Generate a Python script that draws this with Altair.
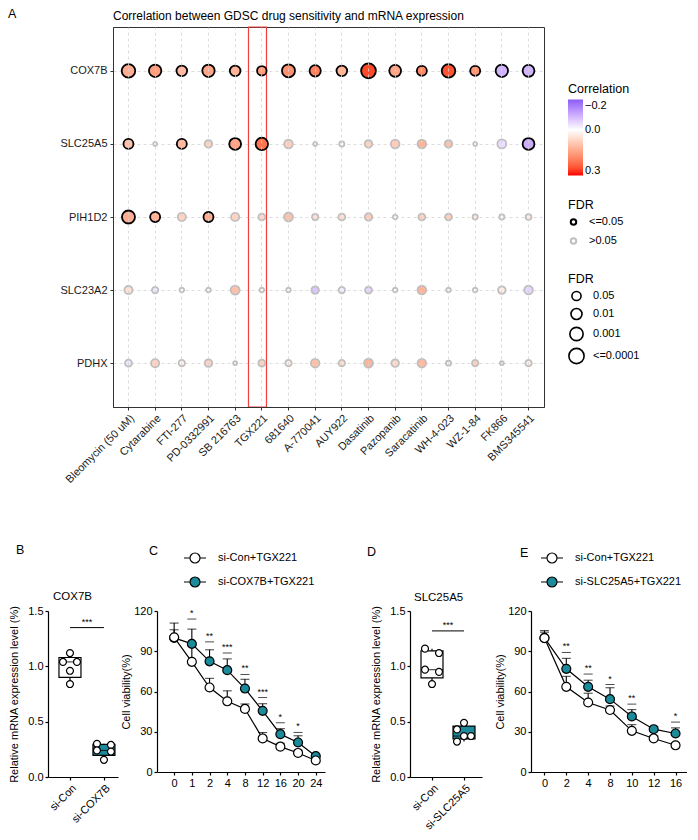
import altair as alt
import pandas as pd

FONT = "Liberation Sans"
TEAL = "#1b8a9b"
PURPLE = "#8c5cf7"

# ---------------- Panel A data ----------------
drugs = ["Bleomycin (50 uM)", "Cytarabine", "FTI-277", "PD-0332991", "SB 216763", "TGX221",
         "681640", "A-770041", "AUY922", "Dasatinib", "Pazopanib", "Saracatinib",
         "WH-4-023", "WZ-1-84", "FK866", "BMS345541"]
genes = ["COX7B", "SLC25A5", "PIH1D2", "SLC23A2", "PDHX"]
highlight_drug = ["TGX221"]

corr_cox7b = [0.13, 0.15, 0.11, 0.14, 0.12, 0.15, 0.17, 0.19, 0.12, 0.26, 0.14, 0.18, 0.25, 0.16, -0.09, -0.09]
corr_slc25a5 = [0.10, 0.01, 0.11, 0.07, 0.14, 0.21, 0.08, 0.02, 0.00, 0.07, 0.08, 0.12, 0.10, 0.00, -0.04, -0.10]
corr_pih1d2 = [0.13, 0.12, 0.07, 0.13, 0.07, 0.06, 0.10, 0.05, 0.05, 0.08, 0.01, 0.07, 0.08, 0.03, 0.01, 0.03]
corr_slc23a2 = [0.05, -0.03, 0.00, 0.00, 0.10, 0.00, 0.00, -0.07, -0.02, -0.05, 0.00, 0.12, 0.01, 0.00, 0.03, -0.05]
corr_pdhx = [-0.03, 0.07, 0.02, 0.07, 0.01, 0.07, 0.03, 0.10, 0.05, 0.12, 0.06, 0.11, 0.02, 0.07, 0.01, 0.03]

# -log10(FDR)
nlf_cox7b = [3.13, 2.58, 1.84, 2.58, 1.84, 1.42, 2.87, 2.09, 1.84, 3.76, 2.31, 1.60, 3.13, 1.60, 2.58, 2.31]
nlf_slc25a5 = [1.60, 0.07, 1.60, 0.82, 2.31, 2.58, 1.15, 0.07, 0.26, 0.82, 1.15, 1.15, 0.82, 0.07, 1.25, 2.31]
nlf_pih1d2 = [2.87, 1.60, 0.99, 1.60, 0.99, 0.65, 1.25, 0.52, 0.65, 0.82, 0.17, 0.65, 0.65, 0.26, 0.26, 0.38]
nlf_slc23a2 = [0.99, 0.52, 0.17, 0.17, 1.25, 0.17, 0.17, 0.82, 0.52, 0.65, 0.17, 1.15, 0.17, 0.17, 0.82, 1.15]
nlf_pdhx = [0.65, 0.99, 0.52, 0.82, 0.07, 0.65, 0.52, 1.15, 0.52, 1.25, 0.82, 1.15, 0.26, 0.52, 0.05, 0.52]

# ---------------- Panel B / D data ----------------
b_groups = ["si-Con", "si-COX7B"]
b_con = [1.12, 1.04, 1.04, 0.96, 0.84]
b_kd = [0.30, 0.29, 0.24, 0.23, 0.155]
b_min = [0.84, 0.155]
b_q1 = [0.90, 0.195]
b_med = [1.04, 0.24]
b_q3 = [1.08, 0.295]
b_max = [1.12, 0.30]
b_sig = 1.35

d_groups = ["si-Con", "si-SLC25A5"]
d_con = [1.16, 1.12, 0.97, 0.95, 0.84]
d_kd = [0.49, 0.43, 0.37, 0.37, 0.32]
d_min = [0.84, 0.32]
d_q1 = [0.895, 0.345]
d_med = [0.97, 0.37]
d_q3 = [1.14, 0.46]
d_max = [1.16, 0.49]
d_sig = 1.32

# ---------------- Panel C / E data ----------------
c_names = ["si-Con+TGX221", "si-COX7B+TGX221"]
c_times = ["0", "1", "2", "4", "8", "12", "16", "20", "24"]
c_con = [100.4, 82.1, 63.0, 52.7, 47.0, 25.0, 18.9, 14.2, 8.6]
c_con_err = [10.6, 12.0, 6.8, 7.8, 3.7, 4.4, 2.5, 2.0, 1.5]
c_kd = [100.0, 95.5, 82.5, 75.9, 62.2, 45.6, 28.2, 22.0, 11.8]
c_kd_err = [6.0, 11.0, 8.6, 8.4, 6.9, 5.3, 4.1, 5.0, 1.0]
c_sig_t = ["1", "2", "4", "8", "12", "16", "20"]
c_sig_y = [114.0, 97.0, 88.7, 72.7, 55.5, 36.7, 29.5]
c_sig_lab = ["*", "**", "***", "**", "***", "*", "*"]

e_names = ["si-Con+TGX221", "si-SLC25A5+TGX221"]
e_times = ["0", "2", "4", "8", "10", "12", "16"]
e_con = [99.8, 63.5, 51.8, 46.2, 30.7, 25.0, 19.9]
e_con_err = [4.4, 7.8, 6.9, 3.0, 4.6, 2.0, 2.0]
e_kd = [100.0, 76.9, 63.5, 54.3, 41.4, 31.9, 28.7]
e_kd_err = [5.4, 7.8, 4.9, 8.5, 5.1, 2.0, 4.2]
e_sig_t = ["2", "4", "8", "10", "16"]
e_sig_y = [89.1, 73.0, 65.2, 50.6, 37.2]
e_sig_lab = ["**", "**", "*", "**", "*"]

# ================= Panel A =================
rows = []
for g, cr, fr in zip(genes, [corr_cox7b, corr_slc25a5, corr_pih1d2, corr_slc23a2, corr_pdhx],
                     [nlf_cox7b, nlf_slc25a5, nlf_pih1d2, nlf_slc23a2, nlf_pdhx]):
    for d, c, f in zip(drugs, cr, fr):
        rows.append({"gene": g, "drug": d, "corr": c, "neg_corr": -c, "nlf": f,
                     "sig": "<=0.05" if f >= 1.30103 else ">0.05"})
df_a = pd.DataFrame(rows)

grid_kw = dict(grid=True, gridDash=[3, 3], gridColor="#d3d3d3", gridWidth=0.8,
               domainColor="#333333", tickColor="#333333", domainWidth=1, tickWidth=1,
               tickSize=3, labelColor="#1a1a1a", labelFontSize=11)
x_top = alt.X("drug:N", sort=drugs, title=None,
              scale=alt.Scale(type="band", paddingInner=0, paddingOuter=0.08),
              axis=alt.Axis(labelAngle=-45, labelPadding=2, **grid_kw))
y_top = alt.Y("gene:N", sort=genes, title=None,
              scale=alt.Scale(type="point", padding=0.6),
              axis=alt.Axis(labelPadding=3, **grid_kw))

# fill uses the negated correlation so the vertical gradient shows -0.2 on top
bubbles = alt.Chart(df_a).mark_circle(opacity=1, strokeWidth=1.8).encode(
    x=x_top, y=y_top,
    fill=alt.Fill("neg_corr:Q",
                  scale=alt.Scale(domain=[-0.3, 0, 0.2], range=["#ff0000", "#ffffff", PURPLE], interpolate="lab"),
                  legend=alt.Legend(title="Correlation", orient="none", legendX=455, legendY=56,
                                    direction="vertical", gradientLength=76, gradientThickness=15,
                                    values=[-0.3, 0, 0.2],
                                    labelExpr="datum.value == 0 ? '0.0' : format(-datum.value, '.1f')",
                                    titleFontSize=12.5, labelFontSize=11, gradientStrokeWidth=0,
                                    titlePadding=4)),
    stroke=alt.Stroke("sig:N", scale=alt.Scale(domain=["<=0.05", ">0.05"], range=["#000000", "#bfbfbf"]),
                      legend=alt.Legend(title="FDR", orient="none", legendX=455, legendY=172,
                                        symbolType="circle", symbolSize=30, symbolStrokeWidth=2,
                                        symbolFillColor="white", labelFontSize=11, titleFontSize=12.5,
                                        rowPadding=4, labelOffset=10)),
    size=alt.Size("nlf:Q", scale=alt.Scale(domain=[0, 4], range=[12, 232]),
                  legend=alt.Legend(title="FDR", orient="none", legendX=455, legendY=246,
                                    values=[1.30103, 2, 3, 4],
                                    labelExpr="datum.value < 1.5 ? '0.05' : datum.value < 2.5 ? '0.01' : datum.value < 3.5 ? '0.001' : '<=0.0001'",
                                    symbolStrokeColor="black", symbolFillColor="white",
                                    symbolStrokeWidth=1.6, labelFontSize=11, titleFontSize=12.5,
                                    rowPadding=0, labelOffset=8)),
)

red_box = alt.Chart(pd.DataFrame({"drug": highlight_drug})).mark_rect(
    fill="transparent", stroke="#f0403c", strokeWidth=1.2
).encode(x=x_top)

top = alt.layer(red_box, bubbles).properties(
    width=431, height=380,
    title=alt.Title("Correlation between GDSC drug sensitivity and mRNA expression",
                    anchor="start", frame="group", fontSize=12, fontWeight="normal", offset=3),
    view=alt.ViewBackground(stroke="#333333", strokeWidth=1),
)

spacer_a = alt.Chart(pd.DataFrame({"t": ["A"]})).mark_text(
    align="left", baseline="top", fontSize=12.5, font=FONT, color="black"
).encode(text="t:N", x=alt.value(-40), y=alt.value(-19)).properties(width=1, height=380)

res = dict(x="independent", y="independent", fill="independent", stroke="independent", size="independent")
leg = dict(fill="independent", stroke="independent", size="independent")

top_row = alt.hconcat(spacer_a, top, spacing=10).resolve_scale(**res).resolve_legend(**leg)


def text_layer(txt, xy, size, baseline="middle"):
    return alt.Chart(pd.DataFrame({"t": [txt]})).mark_text(
        align="left", baseline=baseline, fontSize=size, font=FONT, color="black"
    ).encode(text="t:N", x=alt.value(xy[0]), y=alt.value(xy[1]))


# ================= Box panels =================
def box_panel(groups, con, kd, con_slots, kd_slots, bmin, bq1, bmed, bq3, bmax, sig_y,
              gene_title, title_xy, letter, letter_xy, width, height, pad, align):
    pts = pd.DataFrame({"group": [groups[0]] * len(con) + [groups[1]] * len(kd),
                        "value": con + kd, "slot": con_slots + kd_slots})
    st = pd.DataFrame({"group": groups, "mn": bmin, "q1": bq1, "med": bmed, "q3": bq3, "mx": bmax})
    sg = pd.DataFrame({"a": [groups[0]], "b": [groups[1]], "y": [sig_y], "lab": ["***"]})
    xsc = alt.Scale(type="point", domain=groups, padding=pad, align=align)
    xax = alt.Axis(labelAngle=-45, tickSize=3, labelPadding=2)
    ysc = alt.Scale(domain=[0, 1.5])
    yax = alt.Axis(values=[0, 0.5, 1.0, 1.5], format=".1f", titlePadding=8, tickSize=3, labelPadding=2)
    ytitle = "Relative mRNA expression level (%)"
    step = width / (1 + 2 * pad)

    def X(f):
        return alt.X(f, sort=groups, scale=xsc, axis=xax, title=None)

    def Y(f):
        return alt.Y(f, scale=ysc, axis=yax, title=ytitle)

    whisk = alt.Chart(st).mark_rule(color="black", strokeWidth=1.2).encode(x=X("group:N"), y=Y("mn:Q"), y2="mx:Q")
    box = alt.Chart(st).mark_bar(size=22, stroke="black", strokeWidth=1.2).encode(
        x=X("group:N"), y=Y("q1:Q"), y2="q3:Q",
        fill=alt.Fill("group:N", scale=alt.Scale(domain=groups, range=["white", TEAL]), legend=None))
    med = alt.Chart(st).mark_tick(size=22, thickness=1.2, color="black").encode(x=X("group:N"), y=Y("med:Q"))
    dots = alt.Chart(pts).mark_circle(fill="white", stroke="black", strokeWidth=1.2, size=48, opacity=1).encode(
        x=X("group:N"), y=Y("value:Q"),
        xOffset=alt.XOffset("slot:Q", scale=alt.Scale(domain=[-1, 1], range=[-7, 7])))
    sig_line = alt.Chart(sg).mark_rule(color="black", strokeWidth=1).encode(x=X("a:N"), x2="b:N", y=Y("y:Q"))
    sig_txt = alt.Chart(sg).mark_text(fontSize=9, baseline="bottom", dx=step / 2, dy=-1, color="black").encode(
        x=X("a:N"), y=Y("y:Q"), text="lab:N")
    let = text_layer(letter, letter_xy, 12.5)
    ttl = text_layer(gene_title, title_xy, 11.5)
    return alt.layer(whisk, box, med, dots, sig_line, sig_txt, let, ttl).properties(width=width, height=height)


# ================= Line panels =================
def line_panel(times, con, con_err, kd, kd_err, sig_t, sig_y, sig_lab, names, letter, letter_xy,
               legend_xy, width, height, pad, align):
    rows = []
    for g, m, e in [(names[1], kd, kd_err), (names[0], con, con_err)]:
        for i, t in enumerate(times):
            rows.append({"group": g, "t": t, "idx": i, "mean": m[i], "top": m[i] + e[i]})
    df = pd.DataFrame(rows)
    sg = pd.DataFrame({"t": sig_t, "y": sig_y, "lab": sig_lab})
    xsc = alt.Scale(type="point", padding=pad, align=align)
    xax = alt.Axis(labelAngle=0, tickSize=3, labelPadding=2)
    ysc = alt.Scale(domain=[0, 120])
    yax = alt.Axis(values=[0, 30, 60, 90, 120], titlePadding=2, tickSize=3, labelPadding=2)
    ytitle = "Cell viability(%)"

    def X(f):
        return alt.X(f, sort=times, scale=xsc, axis=xax, title=None)

    def Y(f):
        return alt.Y(f, scale=ysc, axis=yax, title=ytitle)

    path = "M-2.2,0H-1M1,0H2.2M-1,0A1,1 0 1,0 1,0A1,1 0 1,0 -1,0Z"
    lines = alt.Chart(df).mark_line(color="black", strokeWidth=1.2).encode(
        x=X("t:O"), y=Y("mean:Q"), detail="group:N", order="idx:Q")
    err = alt.Chart(df).mark_rule(color="black", strokeWidth=1.1).encode(x=X("t:O"), y=Y("mean:Q"), y2="top:Q")
    cap = alt.Chart(df).mark_tick(color="black", size=9, thickness=1.1).encode(x=X("t:O"), y=Y("top:Q"))
    s_tick = alt.Chart(sg).mark_tick(color="black", size=9, thickness=1).encode(x=X("t:O"), y=Y("y:Q"))
    s_txt = alt.Chart(sg).mark_text(fontSize=9, baseline="bottom", dy=-1, color="black").encode(
        x=X("t:O"), y=Y("y:Q"), text="lab:N")
    pts = alt.Chart(df).mark_circle(size=80, stroke="black", strokeWidth=1.2, opacity=1).encode(
        x=X("t:O"), y=Y("mean:Q"),
        fill=alt.Fill("group:N", scale=alt.Scale(domain=names, range=["white", TEAL]),
                      legend=alt.Legend(title=None, orient="none", legendX=legend_xy[0], legendY=legend_xy[1],
                                        direction="vertical", symbolType=path, symbolSize=100,
                                        symbolStrokeColor="black", symbolStrokeWidth=1.2, symbolOpacity=1,
                                        labelFontSize=11, labelOffset=17, rowPadding=8)))
    let = text_layer(letter, letter_xy, 12.5)
    return alt.layer(lines, err, cap, s_tick, s_txt, pts, let).properties(width=width, height=height)


panel_b = box_panel(b_groups, b_con, b_kd, [0, -1, 1, 0, 0], [-1, 1, -1, 1, 0],
                    b_min, b_q1, b_med, b_q3, b_max, b_sig, "COX7B", (5, -14), "B", (-32, -61),
                    70, 166, 0.53, 0.61)
panel_d = box_panel(d_groups, d_con, d_kd, [-1, 1, -1, 1, 0], [0, -1, 0, 1, -1],
                    d_min, d_q1, d_med, d_q3, d_max, d_sig, "SLC25A5", (4, -13), "D", (-43, -59),
                    72, 166, 0.625, 0.55)
panel_c = line_panel(c_times, c_con, c_con_err, c_kd, c_kd_err, c_sig_t, c_sig_y, c_sig_lab, c_names,
                     "C", (-8, -60), (32, -59), 168, 161, 0.745, 0.65)
panel_e = line_panel(e_times, e_con, e_con_err, e_kd, e_kd_err, e_sig_t, e_sig_y, e_sig_lab, e_names,
                     "E", (-11, -58), (15, -59), 156, 161, 0.57, 0.54)

left_pair = alt.hconcat(panel_b, panel_c, spacing=2).resolve_scale(**res).resolve_legend(**leg)
right_pair = alt.hconcat(panel_d, panel_e, spacing=12).resolve_scale(**res).resolve_legend(**leg)
bottom = alt.hconcat(left_pair, right_pair, spacing=42).resolve_scale(**res).resolve_legend(**leg)

chart = alt.vconcat(top_row, bottom, spacing=58).resolve_scale(**res).resolve_legend(**leg).properties(padding=0)

chart = chart.configure(font=FONT).configure_view(stroke=None).configure_axis(
    labelFont=FONT, titleFont=FONT, labelFontSize=11, titleFontSize=11, labelColor="black",
    titleColor="black", titleFontWeight="normal", domainColor="black", tickColor="black",
    domainWidth=1.2, tickWidth=1.2, grid=False
).configure_legend(
    labelFont=FONT, titleFont=FONT, titleFontWeight="normal", labelColor="black", titleColor="black"
).configure_title(font=FONT, fontWeight="normal", color="black")

chart.save("out.html", embed_options={"renderer": "svg", "actions": False})
